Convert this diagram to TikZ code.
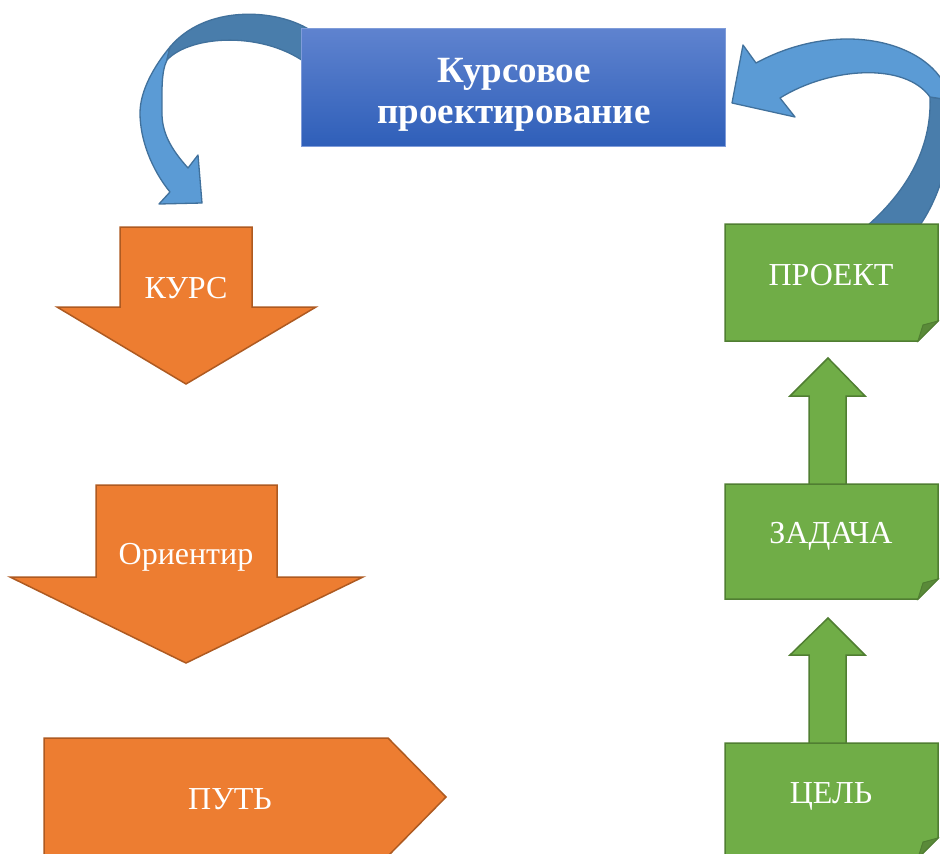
\documentclass[tikz,border=0pt]{standalone}
\usepackage{fontspec}
\setmainfont{Liberation Serif}
\definecolor{orfill}{HTML}{ED7D31}
\definecolor{orline}{HTML}{AE5A21}
\definecolor{grfill}{HTML}{70AD47}
\definecolor{grline}{HTML}{507E32}
\definecolor{grfold}{HTML}{5A8A39}
\definecolor{bllight}{HTML}{5B9BD5}
\definecolor{bldark}{HTML}{497DAB}
\definecolor{blline}{HTML}{41719C}
\definecolor{boxtop}{HTML}{5F83CF}
\definecolor{boxbot}{HTML}{2F5FB9}
\begin{document}
\begin{tikzpicture}[x=1pt,y=-1pt,
  orshape/.style={fill=orfill,draw=orline,line width=1.5pt,line join=miter},
  grshape/.style={fill=grfill,draw=grline,line width=1.5pt,line join=miter},
  foldtri/.style={fill=grfold,draw=grline,line width=1pt},
  lightband/.style={fill=bllight,draw=blline,line width=1.3pt,line join=round},
  darkband/.style={fill=bldark,draw=blline,line width=1.3pt,line join=round},
  wtext/.style={text=white,inner sep=0pt,anchor=base,font=\fontsize{32}{38}\selectfont},
  btext/.style={text=white,inner sep=0pt,anchor=base,font=\fontsize{37}{42}\selectfont\bfseries}]
\useasboundingbox (0,0) rectangle (940,854);
\fill[white] (0,0) rectangle (940,854);

% left curved arrow
\path[lightband] (170,47) .. controls (155,65) and (140,90) .. (140,113)
  .. controls (140,140) and (152,170) .. (170,192) -- (159,204) -- (202,203)
  -- (198,155) -- (188,168) .. controls (170,148) and (162,132) .. (162,113)
  .. controls (162,92) and (161,72) .. (167,60) -- cycle;
\path[darkband] (310,30) .. controls (275,8) and (205,5) .. (170,47) -- (167,60)
  .. controls (190,35) and (265,30) .. (310,66) -- cycle;

% right curved arrow
\path[darkband] (860,232) .. controls (905,195) and (932,150) .. (930,97)
  -- (950,100) .. controls (955,150) and (940,200) .. (915,232) -- cycle;
\path[lightband] (930,97) .. controls (905,62) and (830,67) .. (780,98)
  -- (795,117) -- (732,103) -- (743,45) -- (756,63)
  .. controls (845,15) and (940,45) .. (950,100) -- cycle;

% title box
\path[top color=boxtop,bottom color=boxbot,draw=boxtop!80!white,line width=0.8pt]
  (301,28) rectangle (725,146);
\node[btext] (t1) at (514,82) {Курсовое};
\node[btext] (t2) at (514,123) {проектирование};

% orange shapes
\path[orshape] (120,227) -- (252,227) -- (252,307) -- (316,307) -- (186,384)
  -- (57,307) -- (120,307) -- cycle;
\node[wtext] (kurs) at (186,298) {КУРС};
\path[orshape] (96,485) -- (277,485) -- (277,577) -- (363,577) -- (186,663)
  -- (10,577) -- (96,577) -- cycle;
\node[wtext] (orient) at (186,564) {Ориентир};
\path[orshape] (44,738) -- (388,738) -- (446,797) -- (388,856) -- (44,856) -- cycle;
\node[wtext] (put) at (230,809) {ПУТЬ};

% green up arrows
\path[grshape] (809,748) -- (809,655) -- (790,655) -- (828,618) -- (865,655)
  -- (846,655) -- (846,748) -- cycle;
\path[grshape] (809,488) -- (809,396) -- (790,396) -- (828,358) -- (865,396)
  -- (846,396) -- (846,488) -- cycle;

% green boxes with folded corner
\path[grshape] (725,224) -- (938,224) -- (938,321) -- (918,341) -- (725,341) -- cycle;
\path[foldtri] (918,341) -- (938,321) -- (923,325) -- cycle;
\node[wtext] (proj) at (831,285) {ПРОЕКТ};

\path[grshape] (725,484) -- (938,484) -- (938,579) -- (918,599) -- (725,599) -- cycle;
\path[foldtri] (918,599) -- (938,579) -- (923,583) -- cycle;
\node[wtext] (zad) at (831,543) {ЗАДАЧА};

\path[grshape] (725,743) -- (938,743) -- (938,838) -- (918,858) -- (725,858) -- cycle;
\path[foldtri] (918,858) -- (938,838) -- (923,842) -- cycle;
\node[wtext] (cel) at (831,803) {ЦЕЛЬ};
\end{tikzpicture}
\end{document}
